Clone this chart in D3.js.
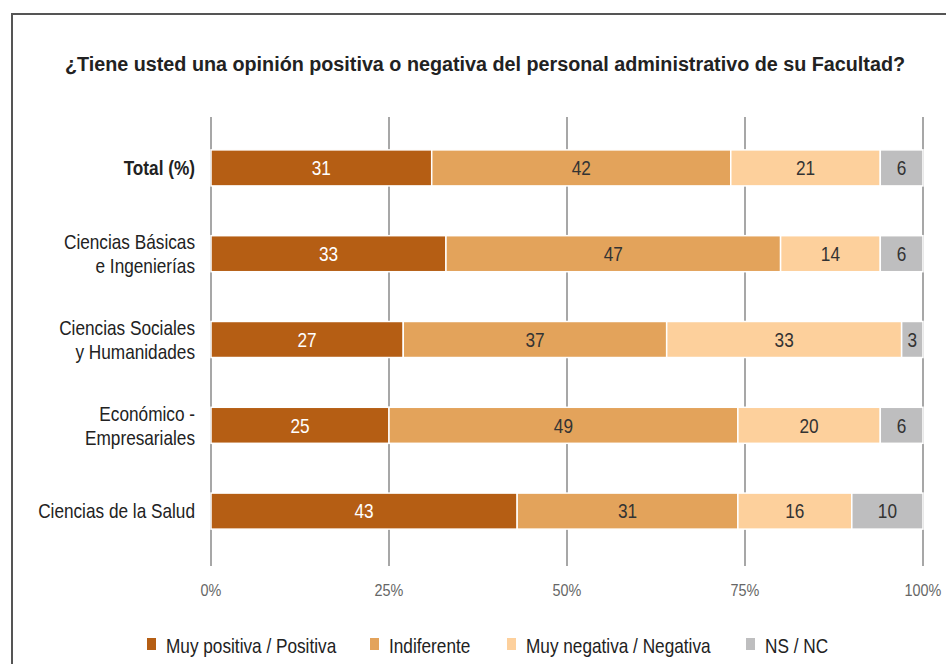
<!DOCTYPE html>
<html>
<head>
<meta charset="utf-8">
<script src="https://cdn.jsdelivr.net/npm/d3@7"></script>
<style>
  body { margin: 0; background: #fff; }
  svg { display: block; font-family: "Liberation Sans", Arial, sans-serif; }
</style>
</head>
<body>
<svg id="chart" width="946" height="664"></svg>
<script>
// data
const categories = [
  ["Total (%)"],
  ["Ciencias Básicas", "e Ingenierías"],
  ["Ciencias Sociales", "y Humanidades"],
  ["Económico -", "Empresariales"],
  ["Ciencias de la Salud"]
];
const seriesNames = ["Muy positiva / Positiva", "Indiferente", "Muy negativa / Negativa", "NS / NC"];
const positiva    = [31, 33, 27, 25, 43];
const indiferente = [42, 47, 37, 49, 31];
const negativa    = [21, 14, 33, 20, 16];
const nsnc        = [6, 6, 3, 6, 10];
const tickValues = [0, 25, 50, 75, 100];
const colors = ["#b55e14", "#e3a35b", "#fdd09c", "#bebebf"];

// no narrow font installed, so squeeze the regular one
const NARROW = 0.82;
const narrow = (x, y, s) => `translate(${x},${y}) scale(${s || NARROW},1)`;

const svg = d3.select("#chart");

// frame
svg.append("path")
  .attr("d", "M12,700 L12,14 L950,14")
  .attr("fill", "none")
  .attr("stroke", "#555")
  .attr("stroke-width", 2);

svg.append("text")
  .attr("x", 485).attr("y", 71)
  .attr("text-anchor", "middle")
  .attr("font-weight", "bold")
  .attr("font-size", 20)
  .attr("fill", "#222")
  .attr("textLength", 840)
  .attr("lengthAdjust", "spacingAndGlyphs")
  .text("¿Tiene usted una opinión positiva o negativa del personal administrativo de su Facultad?");

const x = d3.scaleLinear().domain([0, 100]).range([211, 923]);
const y = d3.scaleBand().domain(d3.range(categories.length)).range([125, 554]).paddingInner(0.58).paddingOuter(0.29);

// grid lines
svg.append("g").selectAll("line")
  .data(tickValues)
  .join("line")
  .attr("x1", d => x(d)).attr("x2", d => x(d))
  .attr("y1", 117).attr("y2", 566)
  .attr("stroke", "#8a8a8a")
  .attr("stroke-width", 1.5);

const series = [positiva, indiferente, negativa, nsnc];
const rows = categories.map((c, i) => {
  let acc = 0;
  return series.map((s, k) => {
    const seg = {row: i, k: k, x0: acc, x1: acc + s[i], v: s[i]};
    acc += s[i];
    return seg;
  });
}).flat();

const bars = svg.append("g");
bars.selectAll("rect")
  .data(rows)
  .join("rect")
  .attr("x", d => x(d.x0))
  .attr("width", d => x(d.x1) - x(d.x0))
  .attr("y", d => y(d.row))
  .attr("height", y.bandwidth())
  .attr("fill", d => colors[d.k])
  .attr("stroke", "#fff")
  .attr("stroke-width", 1.5);

bars.selectAll("text")
  .data(rows)
  .join("text")
  .attr("transform", d => narrow((x(d.x0) + x(d.x1)) / 2, y(d.row) + y.bandwidth() / 2))
  .attr("dy", "0.35em")
  .attr("text-anchor", "middle")
  .attr("font-size", 21)
  .attr("fill", d => d.k === 0 ? "#fff" : "#333")
  .text(d => d.v);

// category labels
const labels = svg.append("g");
categories.forEach((lines, i) => {
  const cy = y(i) + y.bandwidth() / 2;
  lines.forEach((t, j) => {
    labels.append("text")
      .attr("transform", narrow(195, cy + (j - (lines.length - 1) / 2) * 24))
      .attr("dy", "0.35em")
      .attr("text-anchor", "end")
      .attr("font-size", 21)
      .attr("font-weight", i === 0 ? "bold" : "normal")
      .attr("fill", "#222")
      .text(t);
  });
});

// x axis labels
svg.append("g").selectAll("text")
  .data(tickValues)
  .join("text")
  .attr("transform", d => narrow(x(d), 590, 0.9))
  .attr("dy", "0.35em")
  .attr("text-anchor", "middle")
  .attr("font-size", 16)
  .attr("fill", "#666")
  .text(d => d + "%");

// legend
const legendX = [147, 370, 507, 746];
const legend = svg.append("g").selectAll("g")
  .data(seriesNames)
  .join("g")
  .attr("transform", (d, i) => `translate(${legendX[i]},638)`);
legend.append("rect")
  .attr("width", 9).attr("height", 12)
  .attr("fill", (d, i) => colors[i]);
legend.append("text")
  .attr("transform", narrow(19, 15))
  .attr("font-size", 21)
  .attr("fill", "#222")
  .text(d => d);
</script>
</body>
</html>
